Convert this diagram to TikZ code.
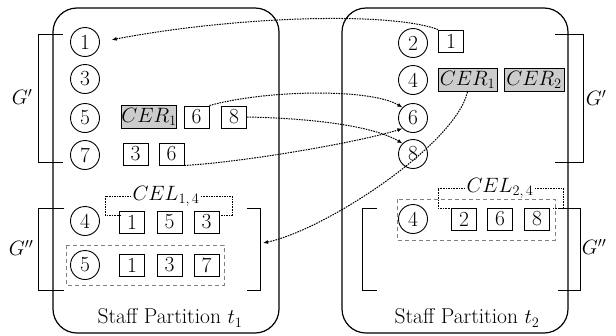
\documentclass[tikz,border=0pt]{standalone}
\usetikzlibrary{arrows.meta,calc}
\begin{document}
\begin{tikzpicture}[x=1pt,y=-1pt,
  every node/.style={font=\fontsize{21.5}{25}\selectfont},
  cir/.style={draw,circle,line width=0.9pt,minimum size=29pt,inner sep=0pt},
  bx/.style={draw,line width=0.9pt,minimum width=25pt,minimum height=22pt,inner sep=0pt},
  cer/.style={bx,fill=gray!40,minimum width=56pt,minimum height=23pt},
  part/.style={draw,line width=1.2pt,rounded corners=24pt},
  brk/.style={line width=1pt},
  dlink/.style={dash pattern=on 1.6pt off 1pt,line width=1pt,-{Latex[length=5pt,width=4pt]}},
  grpbox/.style={draw=gray,dash pattern=on 4pt off 3pt,line width=1pt},
  celb/.style={dash pattern=on 1.6pt off 1pt,line width=0.9pt}
]
\useasboundingbox (0,0) rectangle (616,335);

% partitions
\draw[part] (53,8) rectangle (279,333);
\draw[part] (342,8) rectangle (568,333);
\node (T1) at (170,318) {Staff Partition $t_1$};
\node (T2) at (467,318) {Staff Partition $t_2$};

% left partition, G'
\node[cir] (L1) at (85,42) {1};
\node[cir] (L3) at (85,79) {3};
\node[cir] (L5) at (85,118) {5};
\node[cir] (L7) at (85,155) {7};
\node[cer,minimum width=54pt] (LCER) at (149,117) {$CER_1$};
\node[bx] (L5b6) at (196.5,117) {6};
\node[bx] (L5b8) at (234,117) {8};
\node[bx] (L7b3) at (135.5,154) {3};
\node[bx] (L7b6) at (171.5,154) {6};
\draw[brk] (63,34) -- (38,34) -- (38,162) -- (63,162);
\node (GL1) at (22,97) {$G'$};

% left partition, G''
\node[cir] (L4b) at (85,221) {4};
\node[bx] (L4b1) at (132,222) {1};
\node[bx] (L4b5) at (169.5,222) {5};
\node[bx] (L4b3) at (206.5,222) {3};
\node[cir] (L5b) at (85,265) {5};
\node[bx] (L5c1) at (132,265) {1};
\node[bx] (L5c3) at (169.5,265) {3};
\node[bx] (L5c7) at (206.5,265) {7};
\draw[grpbox] (66,245) rectangle (224,285);
\node[inner sep=1pt] (CEL1) at (166,196) {$CEL_{1,\,4}$};
\draw[celb] (CEL1.west) -- (105,196) -- (105,215) -- (120,215);
\draw[celb] (CEL1.east) -- (232,196) -- (232,215) -- (220,215);
\draw[brk] (64,208) -- (38,208) -- (38,290) -- (64,290);
\draw[brk] (247,208) -- (260,208) -- (260,290) -- (247,290);
\coordinate (LBR) at (263,243);
\node (GL2) at (21,248) {$G''$};

% right partition, G'
\node[cir] (R2) at (413,43) {2};
\node[cir] (R4) at (413,80) {4};
\node[cir] (R6) at (413,118) {6};
\node[cir] (R8) at (413,154) {8};
\node[bx] (R2b1) at (451,41) {1};
\node[cer,minimum width=59pt] (RCER1) at (467.5,80) {$CER_1$};
\node[cer,minimum width=60pt] (RCER2) at (534,80) {$CER_2$};
\draw[brk] (555,34) -- (583,34) -- (583,162) -- (555,162);
\node (GR1) at (596,98) {$G'$};

% right partition, G''
\node[cir] (R4b) at (413,219) {4};
\node[bx] (R4b2) at (464,219) {2};
\node[bx] (R4b6) at (500,219) {6};
\node[bx] (R4b8) at (537,219) {8};
\draw[grpbox] (397,199) rectangle (555,240);
\node[inner sep=1pt] (CEL2) at (500,188) {$CEL_{2,\,4}$};
\draw[celb] (CEL2.west) -- (438,188) -- (438,208) -- (451,208);
\draw[celb] (CEL2.east) -- (563,188) -- (563,208) -- (552,208);
\draw[brk] (377,208) -- (362,208) -- (362,290) -- (377,290);
\draw[brk] (558,208) -- (580,208) -- (580,290) -- (558,290);
\node (GR2) at (594,247) {$G''$};

% connectors
\draw[dlink,shorten >=12pt] (R2b1.north west) .. controls +(-48,-18) and +(137,-26) .. (L1.east);
\draw[dlink] (L5b6.north east) .. controls (265,90) and (370,88) .. (R6.north west);
\draw[dlink] (L5b8.east) .. controls (300,118) and (370,124) .. (R8.north west);
\draw[dlink] (L7b6.south east) .. controls (245,162) and (360,142) .. (R6.south west);
\draw[dlink] (RCER1.south) .. controls (455,145) and (325,230) .. (LBR);
\end{tikzpicture}
\end{document}
